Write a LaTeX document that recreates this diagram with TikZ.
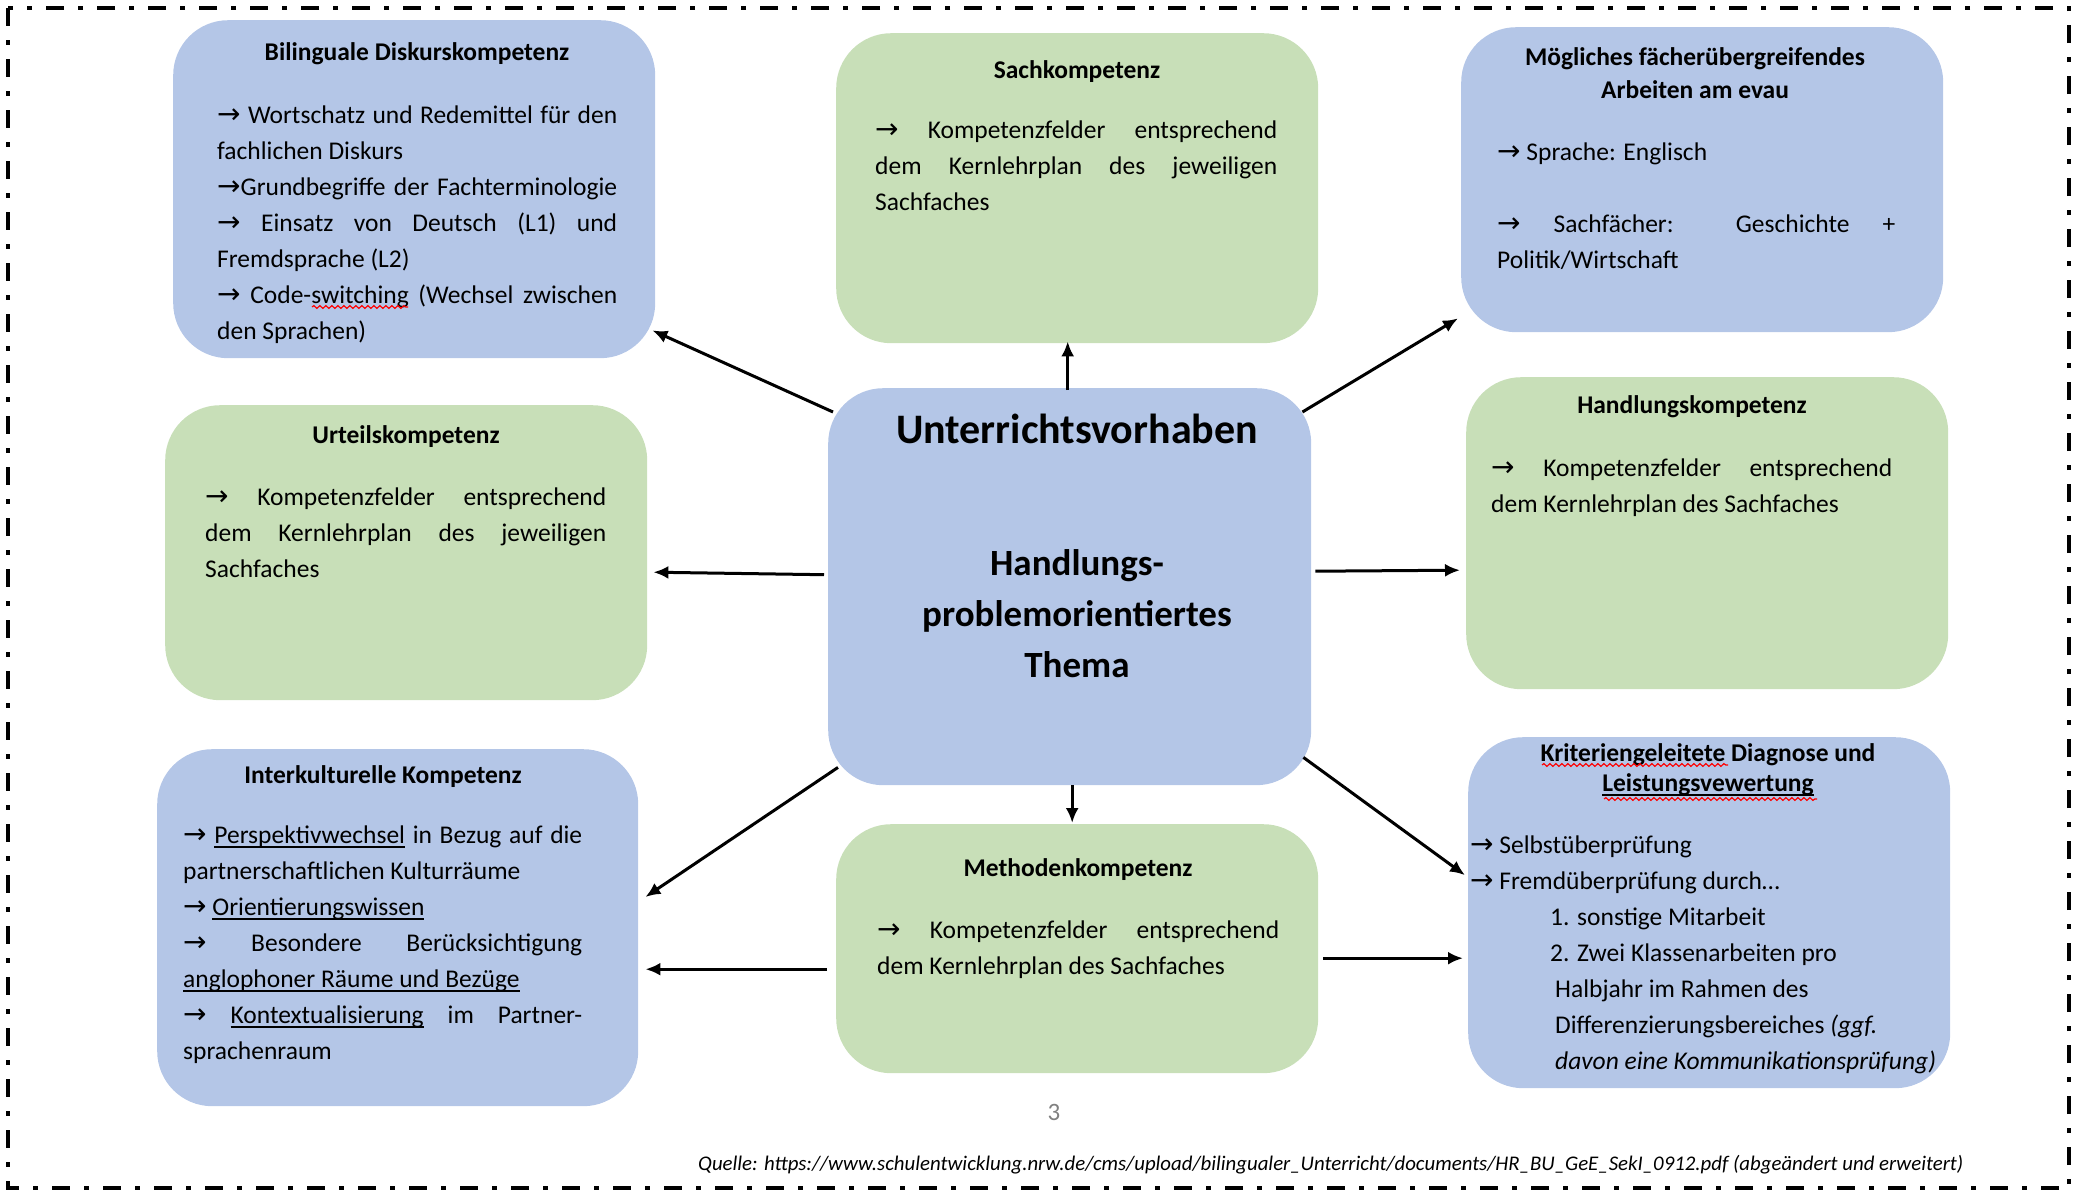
\documentclass[tikz,border=0pt]{standalone}
\usepackage{fontspec}
\setmainfont{Carlito}
\newfontfamily\arrowfont{DejaVu Sans}
\usetikzlibrary{calc,arrows.meta,decorations.pathmorphing}
\definecolor{boxblue}{HTML}{B4C6E7}
\definecolor{boxgreen}{HTML}{C8DFB8}
\definecolor{pagegray}{HTML}{808080}
\newcommand\ar{{\arrowfont\fontsize{28pt}{36pt}\selectfont →}}
\newcommand\jl[1]{\makebox[\linewidth][s]{#1}\par}
\newcommand\nl[1]{\mbox{#1}\par}
\newcommand\ulw[1]{\setbox0=\hbox{#1}\rlap{\rule[-4.5pt]{\wd0}{1.6pt}}\box0\relax}
\newcommand\bodyfont{\fontsize{25.5pt}{36pt}\selectfont}
\tikzset{
  box/.style={rounded corners=55pt, draw=none, inner sep=0pt, anchor=north west},
  bluebox/.style={box, fill=boxblue},
  greenbox/.style={box, fill=boxgreen},
  title/.style={anchor=base, inner sep=0pt, font=\bfseries\fontsize{25.5pt}{30pt}\selectfont},
  body/.style={anchor=base west, inner sep=0pt},
  conn/.style={line width=3pt, -{Latex[length=15pt,width=13pt]}},
  wavy/.style={draw=red, line width=1.2pt, decorate, decoration={snake, amplitude=1.4pt, segment length=6pt}},
  ctext/.style={anchor=base, inner sep=0pt, font=\bfseries},
}
\begin{document}
\begin{tikzpicture}[x=1pt,y=-1pt]
\useasboundingbox (0,0) rectangle (2073,1192);
% border
\draw[line width=4.5pt, dash pattern=on 18pt off 14pt on 5pt off 14pt] (8,8) rectangle (2069,1188);

% boxes
\node[bluebox, minimum width=482pt, minimum height=338pt] (b1) at (173,20) {};
\node[greenbox, minimum width=482pt, minimum height=310pt] (b2) at (836,33) {};
\node[bluebox, minimum width=482pt, minimum height=305pt] (b3) at (1461,27) {};
\node[greenbox, minimum width=482pt, minimum height=295pt] (b4) at (165,405) {};
\node[bluebox, minimum width=483pt, minimum height=397pt] (c) at (828,388) {};
\node[greenbox, minimum width=482pt, minimum height=312pt] (b6) at (1466,377) {};
\node[bluebox, minimum width=481pt, minimum height=357pt] (b7) at (157,749) {};
\node[greenbox, minimum width=482pt, minimum height=249pt] (b8) at (836,824) {};
\node[bluebox, minimum width=482pt, minimum height=351pt] (b9) at (1468,737) {};

% box 1
\node[title] (b1h) at (417,60) {Bilinguale Diskurskompetenz};
\node[body] (b1t) at (217,123) {\parbox[t]{400pt}{\bodyfont
\jl{\ar\ Wortschatz und Redemittel für den}
\nl{fachlichen Diskurs}
\jl{\ar Grundbegriffe der Fachterminologie}
\jl{\ar\ Einsatz von Deutsch (L1) und}
\nl{Fremdsprache (L2)}
\jl{\ar\ Code-switching (Wechsel zwischen}
\nl{den Sprachen)}}};
\draw[wavy] (312,307) -- (408,307);

% box 2
\node[title] (b2h) at (1077,78) {Sachkompetenz};
\node[body] (b2t) at (875,138) {\parbox[t]{402pt}{\bodyfont
\jl{\ar\ Kompetenzfelder entsprechend}
\jl{dem Kernlehrplan des jeweiligen}
\nl{Sachfaches}}};

% box 3
\node[title] (b3h1) at (1695,65) {Mögliches fächerübergreifendes};
\node[title] (b3h2) at (1695,98) {Arbeiten am evau};
\node[body] (b3t) at (1497,160) {\parbox[t]{398pt}{\bodyfont
\nl{\ar\ Sprache: Englisch}
\nl{}
\jl{\ar\ Sachfächer: Geschichte +}
\nl{Politik/Wirtschaft}}};

% box 4
\node[title] (b4h) at (406,443) {Urteilskompetenz};
\node[body] (b4t) at (205,505) {\parbox[t]{401pt}{\bodyfont
\jl{\ar\ Kompetenzfelder entsprechend}
\jl{dem Kernlehrplan des jeweiligen}
\nl{Sachfaches}}};

% center
\node[ctext, font=\bfseries\fontsize{42pt}{50pt}\selectfont] (ct1) at (1077,443) {Unterrichtsvorhaben};
\node[ctext, font=\bfseries\fontsize{37pt}{44pt}\selectfont] (ct2) at (1077,575) {Handlungs-};
\node[ctext, font=\bfseries\fontsize{37pt}{44pt}\selectfont] (ct3) at (1077,626) {problemorientiertes};
\node[ctext, font=\bfseries\fontsize{37pt}{44pt}\selectfont] (ct4) at (1077,677) {Thema};

% box 6
\node[title] (b6h) at (1692,413) {Handlungskompetenz};
\node[body] (b6t) at (1491,476) {\parbox[t]{401pt}{\bodyfont
\jl{\ar\ Kompetenzfelder entsprechend}
\nl{dem Kernlehrplan des Sachfaches}}};

% box 7
\node[title] (b7h) at (383,783) {Interkulturelle Kompetenz};
\node[body] (b7t) at (183,843) {\parbox[t]{399pt}{\bodyfont
\jl{\ar\ \ulw{Perspektivwechsel} in Bezug auf die}
\nl{partnerschaftlichen Kulturräume}
\nl{\ar\ \ulw{Orientierungswissen}}
\jl{\ar\ Besondere Berücksichtigung}
\nl{\ulw{anglophoner Räume und Bezüge}}
\jl{\ar\ \ulw{Kontextualisierung} im Partner-}
\nl{sprachenraum}}};

% box 8
\node[title] (b8h) at (1078,876) {Methodenkompetenz};
\node[body] (b8t) at (877,938) {\parbox[t]{402pt}{\bodyfont
\jl{\ar\ Kompetenzfelder entsprechend}
\nl{dem Kernlehrplan des Sachfaches}}};

% box 9
\node[title] (b9h1) at (1708,761) {Kriteriengeleitete Diagnose und};
\node[title] (b9h2) at (1708,791) {\ulw{Leistungsvewertung}};
\draw[wavy] (1542,765) -- (1728,765);
\draw[wavy] (1604,799) -- (1817,799);
\node[body] (b9t) at (1470,853) {\parbox[t]{470pt}{\bodyfont
\nl{\ar\ Selbstüberprüfung}
\nl{\ar\ Fremdüberprüfung durch…}
\nl{\hspace{80pt}1. sonstige Mitarbeit}
\nl{\hspace{80pt}2. Zwei Klassenarbeiten pro}
\nl{\hspace{85pt}Halbjahr im Rahmen des}
\nl{\hspace{85pt}Differenzierungsbereiches \textit{(ggf.}}
\nl{\hspace{85pt}\textit{davon eine Kommunikationsprüfung)}}}};

% connectors
\draw[conn] ($(c.north west)+(5,24)$) -- ($(b1.south east)+(-3,-28)$);
\draw[conn] ($(c.north)+(-2,2)$) -- ($(b2.south)+(-9.5,-2)$);
\draw[conn] ($(c.north east)+(-9,24)$) -- ($(b3.south west)+(-3,-14)$);
\draw[conn] ($(c.west)+(-4,-12)$) -- ($(b4.east)+(6,19.5)$);
\draw[conn] ($(c.east)+(4,-15.5)$) -- ($(b6.west)+(-6,37)$);
\draw[conn] ($(c.south west)+(10,-18)$) -- ($(b7.north east)+(7,148)$);
\draw[conn] ($(c.south)+(2.5,0)$) -- ($(b8.north)+(-5,-1)$);
\draw[conn] ($(c.south east)+(-8,-28)$) -- ($(b9.west)+(-3,-37.5)$);
\draw[conn] ($(b8.west)+(-9,20.5)$) -- ($(b7.east)+(7,41.5)$);
\draw[conn] ($(b8.east)+(5,9.5)$) -- ($(b9.west)+(-5,45.5)$);

% page number and source
\node[anchor=base, inner sep=0pt, text=pagegray, font=\fontsize{25pt}{30pt}\selectfont] (pg) at (1054,1120) {3};
\node[anchor=base west, inner sep=0pt] (src) at (698,1170) {\resizebox{1265pt}{!}{\itshape\fontsize{20pt}{24pt}\selectfont Quelle: https://www.schulentwicklung.nrw.de/cms/upload/bilingualer\_Unterricht/documents/HR\_BU\_GeE\_SekI\_0912.pdf (abgeändert und erweitert)}};
\end{tikzpicture}
\end{document}
